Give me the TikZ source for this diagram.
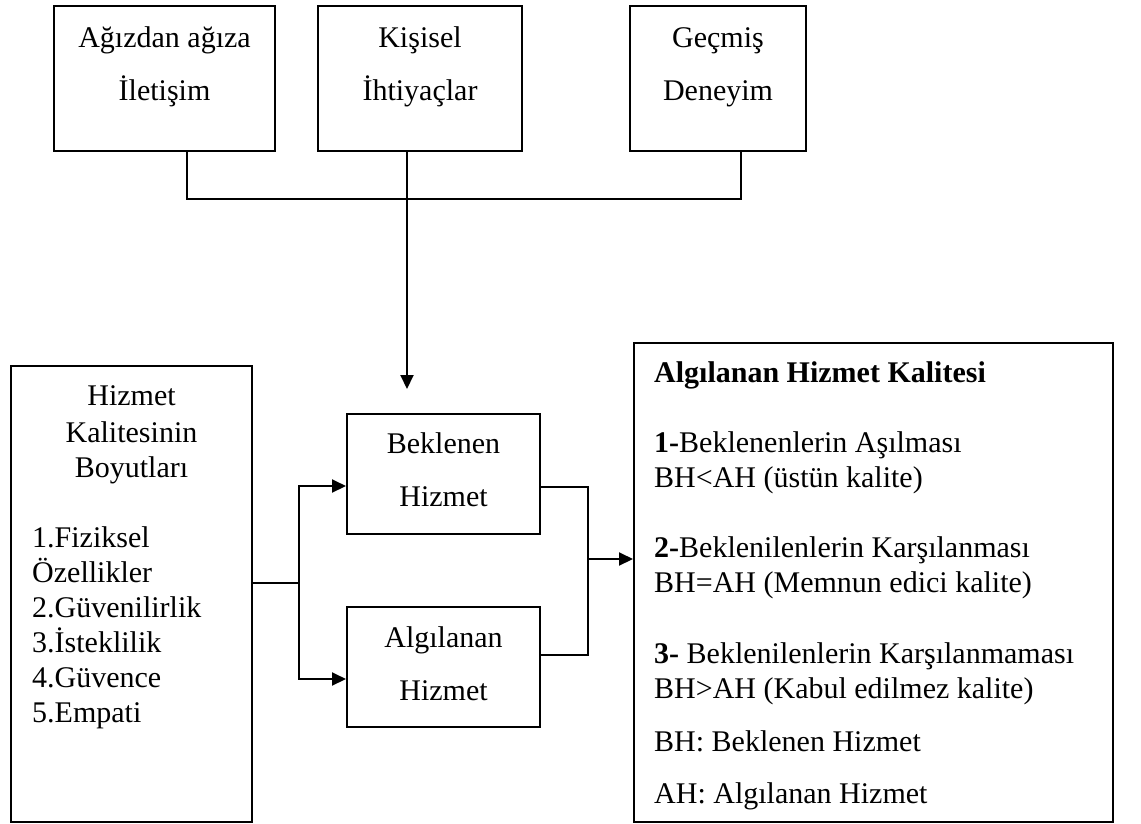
\documentclass[tikz,border=0pt]{standalone}
\usepackage{fontspec}
\setmainfont{Liberation Serif}
\usetikzlibrary{arrows.meta}

\begin{document}
\begin{tikzpicture}[x=1pt,y=-1pt,
  box/.style={draw, line width=2pt, inner sep=0pt, rectangle},
  txt/.style={inner sep=0pt, anchor=base, font=\fontsize{30}{35}\selectfont},
  ltxt/.style={txt, anchor=base west},
  link/.style={line width=2pt},
  arr/.style={link, -{Triangle[length=14pt,width=13pt]}}]

\useasboundingbox (0,0) rectangle (1141,823);

% source boxes along the top
\node[box, minimum width=221pt, minimum height=145pt] (ag) at (164.5,78.5) {};
\node[box, minimum width=204pt, minimum height=145pt] (ki) at (420,78.5) {};
\node[box, minimum width=176pt, minimum height=145pt] (gd) at (718,78.5) {};
\node[txt] (ag1) at (164.5,47) {Ağızdan ağıza};
\node[txt] (ag2) at (164.5,100) {İletişim};
\node[txt] (ki1) at (420,47) {Kişisel};
\node[txt] (ki2) at (420,100) {İhtiyaçlar};
\node[txt] (gd1) at (718,47) {Geçmiş};
\node[txt] (gd2) at (718,100) {Deneyim};

% service quality dimensions
\node[box, minimum width=241pt, minimum height=456pt] (hk) at (131.5,594) {};
\node[txt] (hk1) at (131.5,405) {Hizmet};
\node[txt] (hk2) at (131.5,442) {Kalitesinin};
\node[txt] (hk3) at (131.5,477) {Boyutları};
\node[ltxt] (d1) at (32,547) {1.Fiziksel};
\node[ltxt] (d1b) at (32,582) {Özellikler};
\node[ltxt] (d2) at (32,617) {2.Güvenilirlik};
\node[ltxt] (d3) at (32,652) {3.İsteklilik};
\node[ltxt] (d4) at (32,687) {4.Güvence};
\node[ltxt] (d5) at (32,722) {5.Empati};

% expected and perceived service
\node[box, minimum width=193pt, minimum height=120pt] (bh) at (443.5,474) {};
\node[txt] (bh1) at (443.5,453) {Beklenen};
\node[txt] (bh2) at (443.5,506) {Hizmet};
\node[box, minimum width=193pt, minimum height=120pt] (ah) at (443.5,667) {};
\node[txt] (ah1) at (443.5,647) {Algılanan};
\node[txt] (ah2) at (443.5,700) {Hizmet};

% perceived service quality
\node[box, minimum width=479pt, minimum height=479pt] (ahk) at (873.5,582.5) {};
\node[ltxt] (r0) at (654,382) {\bfseries Algılanan Hizmet Kalitesi};
\node[ltxt] (r1) at (654,452) {\textbf{1-}Beklenenlerin Aşılması};
\node[ltxt] (r1b) at (654,487) {BH<AH (üstün kalite)};
\node[ltxt] (r2) at (654,557) {\textbf{2-}Beklenilenlerin Karşılanması};
\node[ltxt] (r2b) at (654,592) {BH=AH (Memnun edici kalite)};
\node[ltxt] (r3) at (654,663) {\textbf{3-} Beklenilenlerin Karşılanmaması};
\node[ltxt] (r3b) at (654,698) {BH>AH (Kabul edilmez kalite)};
\node[ltxt] (r4) at (654,751) {BH: Beklenen Hizmet};
\node[ltxt] (r5) at (654,803) {AH: Algılanan Hizmet};

% junction points
\coordinate (j) at (407,199);
\coordinate (jend) at (407,389);
\coordinate (s) at (299,583);
\coordinate (m) at (588,559);

% top connectors into expected service
\draw[link] ([xshift=22.5pt]ag.south) |- (j);
\draw[link] (j) -| ([xshift=23pt]gd.south);
\draw[link] ([xshift=-13pt]ki.south) -- (j);
\draw[arr] (j) -- (jend);

% dimensions split into both services
\draw[link] ([yshift=11pt]hk.east) -- (s);
\draw[arr] (s) |- ([yshift=-12pt]bh.west);
\draw[arr] (s) |- ([yshift=-12pt]ah.west);

% both services merge into perceived quality
\draw[link] ([yshift=-13pt]bh.east) -| (m);
\draw[link] ([yshift=12pt]ah.east) -| (m);
\draw[arr] (m) -- (m -| ahk.west);
\end{tikzpicture}
\end{document}
